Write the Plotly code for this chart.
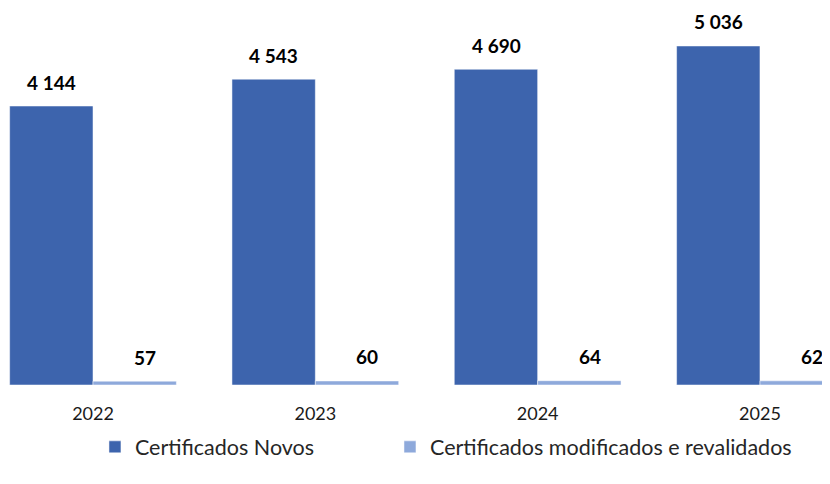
import plotly.graph_objects as go

years = ["2022", "2023", "2024", "2025"]
novos = [4144, 4543, 4690, 5036]
modificados = [57, 60, 64, 62]

names = ["Certificados Novos", "Certificados modificados e revalidados"]
colors = ["#3D64AD", "#8EA9DB"]


def fmt(v):
    return f"{v:,}".replace(",", " ")


fig = go.Figure()
fig.add_trace(go.Bar(x=years, y=novos, name=names[0], marker_color=colors[0], legend="legend"))
fig.add_trace(go.Bar(x=years, y=modificados, name=names[1], marker_color=colors[1], legend="legend2"))

# value labels above each bar (small-bar labels sit a bit right of centre)
for vals, shift in [(novos, -41.5), (modificados, 52)]:
    for i, v in enumerate(vals):
        fig.add_annotation(x=i, y=v, text="<b>" + fmt(v) + "</b>", showarrow=False,
                           xshift=shift, yshift=24, yanchor="middle",
                           font=dict(size=19, color="#000000", family="Lato"))

leg = dict(orientation="h", xanchor="left", yref="container", y=0.078, yanchor="middle",
           font=dict(size=21.5, color="#262626"), bgcolor="rgba(0,0,0,0)")

# page body has an 8px margin, so the figure is sized to fill the rest of the window
fig.update_layout(
    width=822, height=476,
    template="plotly_white",
    barmode="group",
    bargap=0.25,
    bargroupgap=0,
    showlegend=True,
    margin=dict(l=0, r=0, t=0, b=99, autoexpand=False),
    font=dict(family="Lato", size=18, color="#1a1a1a"),
    plot_bgcolor="white",
    paper_bgcolor="white",
    legend=dict(leg, x=0.1058),
    legend2=dict(leg, x=0.4647),
)
fig.update_xaxes(type="category", range=[-0.3824, 3.315], showgrid=False, showline=False,
                 zeroline=False, ticks="outside", ticklen=12, tickcolor="rgba(0,0,0,0)",
                 tickfont=dict(size=18, color="#1a1a1a"))
fig.update_yaxes(range=[0, 5600], visible=False, showgrid=False, zeroline=False)

fig.write_html("out.html")
